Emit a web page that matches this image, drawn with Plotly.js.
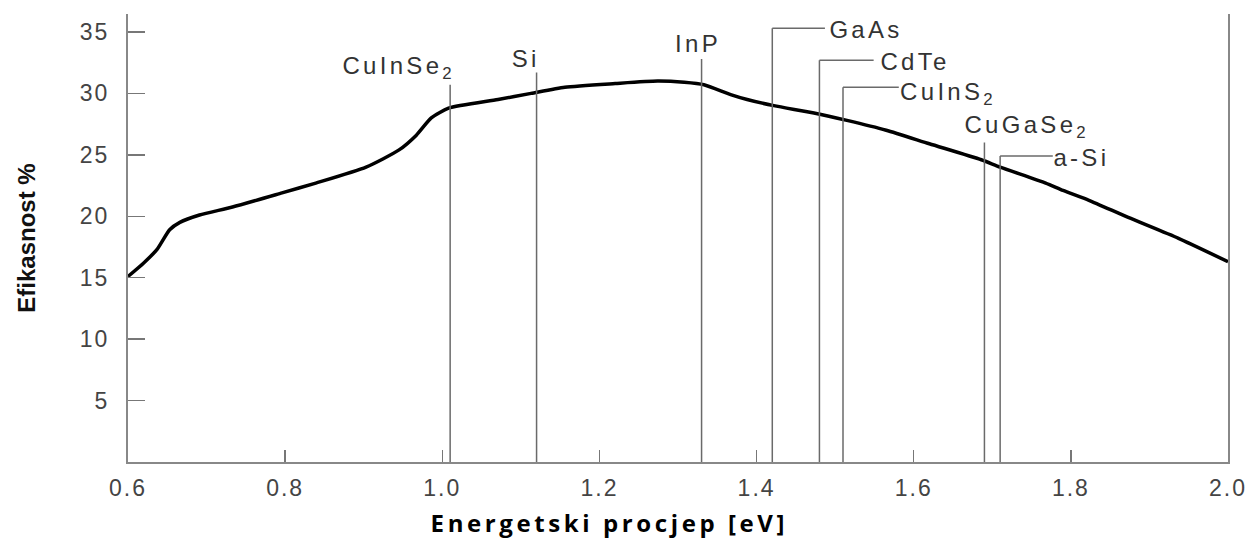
<!DOCTYPE html>
<html>
<head>
<meta charset="utf-8">
<script src="https://cdn.plot.ly/plotly-3.0.1.min.js"></script>
<style>
html,body{margin:0;padding:0;background:#fff;}
#chart{width:1252px;height:539px;}
#chart .xtick text, #chart .ytick text{letter-spacing:2px;}
#chart .annotation.mat text{letter-spacing:3.3px;}
#chart .annotation.xt text{letter-spacing:3.6px;}
</style>
</head>
<body>
<div id="chart"></div>
<script>
// Efficiency curve (band gap in eV, efficiency in %)
const gapEv = [0.600, 0.620, 0.637, 0.653, 0.666, 0.691, 0.733, 0.796, 0.839, 0.903, 0.945, 0.967, 0.986, 1.008, 1.071, 1.113, 1.156, 1.220, 1.274, 1.308, 1.333, 1.367, 1.388, 1.422, 1.473, 1.515, 1.565, 1.620, 1.686, 1.710, 1.768, 1.790, 1.823, 1.873, 1.937, 2.000];
const efficiency = [15.1, 16.2, 17.3, 18.9, 19.5, 20.1, 20.75, 21.9, 22.7, 24.0, 25.4, 26.6, 28.0, 28.8, 29.5, 30.0, 30.5, 30.8, 31.0, 30.9, 30.7, 29.9, 29.5, 29.0, 28.4, 27.8, 27.0, 25.9, 24.6, 24.0, 22.7, 22.1, 21.3, 19.9, 18.2, 16.3];

// Materials and their band gaps
const materials = ['CuInSe<sub>2</sub>', 'Si', 'InP', 'GaAs', 'CdTe', 'CuInS<sub>2</sub>', 'CuGaSe<sub>2</sub>', 'a-Si'];
const materialGap = [1.01, 1.12, 1.33, 1.42, 1.48, 1.51, 1.69, 1.71];

// Tick labels
const xTickVals = [0.6, 0.8, 1.0, 1.2, 1.4, 1.6, 1.8, 2.0];
const xTickText = ['0.6', '0.8', '1.0', '1.2', '1.4', '1.6', '1.8', '2.0'];
const yTickVals = [5, 10, 15, 20, 25, 30, 35];

// Label layout (positions only): line top (y units), leader end x (null = none),
// label x, label y, anchor
const lineTop   = [30.7, 31.7, 32.8, 35.3, 32.7, 30.5, 26.0, 24.9];
const leaderEnd = [null, null, null, 1.487, 1.549, 1.581, null, 1.777];
const labelX    = [0.944, 1.106, 1.326, 1.498, 1.564, 1.593, 1.744, 1.783];
const labelY    = [32.1, 32.8, 34.1, 35.2, 32.6, 30.0, 27.3, 24.8];
const labelAnchor = ['center', 'center', 'center', 'left', 'left', 'left', 'center', 'left'];

const lineColor = '#6a6a6a';
const shapes = [];
const annotations = [];
materials.forEach((m, i) => {
  shapes.push({type: 'line', xref: 'x', yref: 'y', x0: materialGap[i], x1: materialGap[i], y0: 0, y1: lineTop[i],
               line: {color: lineColor, width: 1.5}});
  if (leaderEnd[i] !== null) {
    shapes.push({type: 'line', xref: 'x', yref: 'y', x0: materialGap[i], x1: leaderEnd[i], y0: lineTop[i], y1: lineTop[i],
                 line: {color: lineColor, width: 1.5}});
  }
  annotations.push({x: labelX[i], y: labelY[i], xref: 'x', yref: 'y', text: m, showarrow: false,
                    xanchor: labelAnchor[i], yanchor: 'middle', name: 'mat',
                    font: {family: 'Liberation Sans, Arial, sans-serif', size: 24, color: '#333'}});
});

annotations.push({x: 0.438, y: -0.134, xref: 'paper', yref: 'paper', text: '<b>Energetski procjep [eV]</b>',
                  showarrow: false, xanchor: 'center', yanchor: 'middle', name: 'xt',
                  font: {family: 'Open Sans, sans-serif', size: 24, color: '#000'}});
annotations.push({x: -0.093, y: 0.5, xref: 'paper', yref: 'paper', text: '<b>Efikasnost %</b>', textangle: -90,
                  showarrow: false, xanchor: 'center', yanchor: 'middle', name: 'yt',
                  font: {family: 'Liberation Sans, Arial, sans-serif', size: 24, color: '#111'}});

const trace = {
  x: gapEv, y: efficiency, type: 'scatter', mode: 'lines',
  line: {color: '#000', width: 3.5, shape: 'spline', smoothing: 0.6},
  hoverinfo: 'skip'
};

const layout = {
  width: 1252, height: 539,
  margin: {l: 128, r: 24, t: 14, b: 77, pad: 0},
  paper_bgcolor: '#fff', plot_bgcolor: '#fff',
  showlegend: false,
  xaxis: {
    range: [0.6, 2.0], tickvals: xTickVals, ticktext: xTickText,
    showgrid: false, zeroline: false, showline: true, linecolor: '#888', linewidth: 2,
    ticks: 'inside', ticklen: 12, tickwidth: 1.5, tickcolor: '#777',
    ticklabelstandoff: 4,
    tickfont: {family: 'Liberation Sans, Arial, sans-serif', size: 23, color: '#444'}
  },
  yaxis: {
    range: [0, 36.46], tickvals: yTickVals,
    showgrid: false, zeroline: false, showline: true, mirror: true, linecolor: '#888', linewidth: 2,
    ticks: 'inside', ticklen: 17, tickwidth: 1.5, tickcolor: '#777',
    ticklabelstandoff: 12,
    tickfont: {family: 'Liberation Sans, Arial, sans-serif', size: 23, color: '#444'}
  },
  shapes: shapes,
  annotations: annotations
};

Plotly.newPlot('chart', [trace], layout, {staticPlot: true, displayModeBar: false}).then(gd => {
  // tag annotation groups so the stylesheet can widen their lettering like the reference
  const groups = gd.querySelectorAll('.annotation');
  groups.forEach((g, i) => {
    const a = gd.layout.annotations[i];
    if (a && a.name) g.classList.add(a.name);
  });
});
</script>
</body>
</html>
